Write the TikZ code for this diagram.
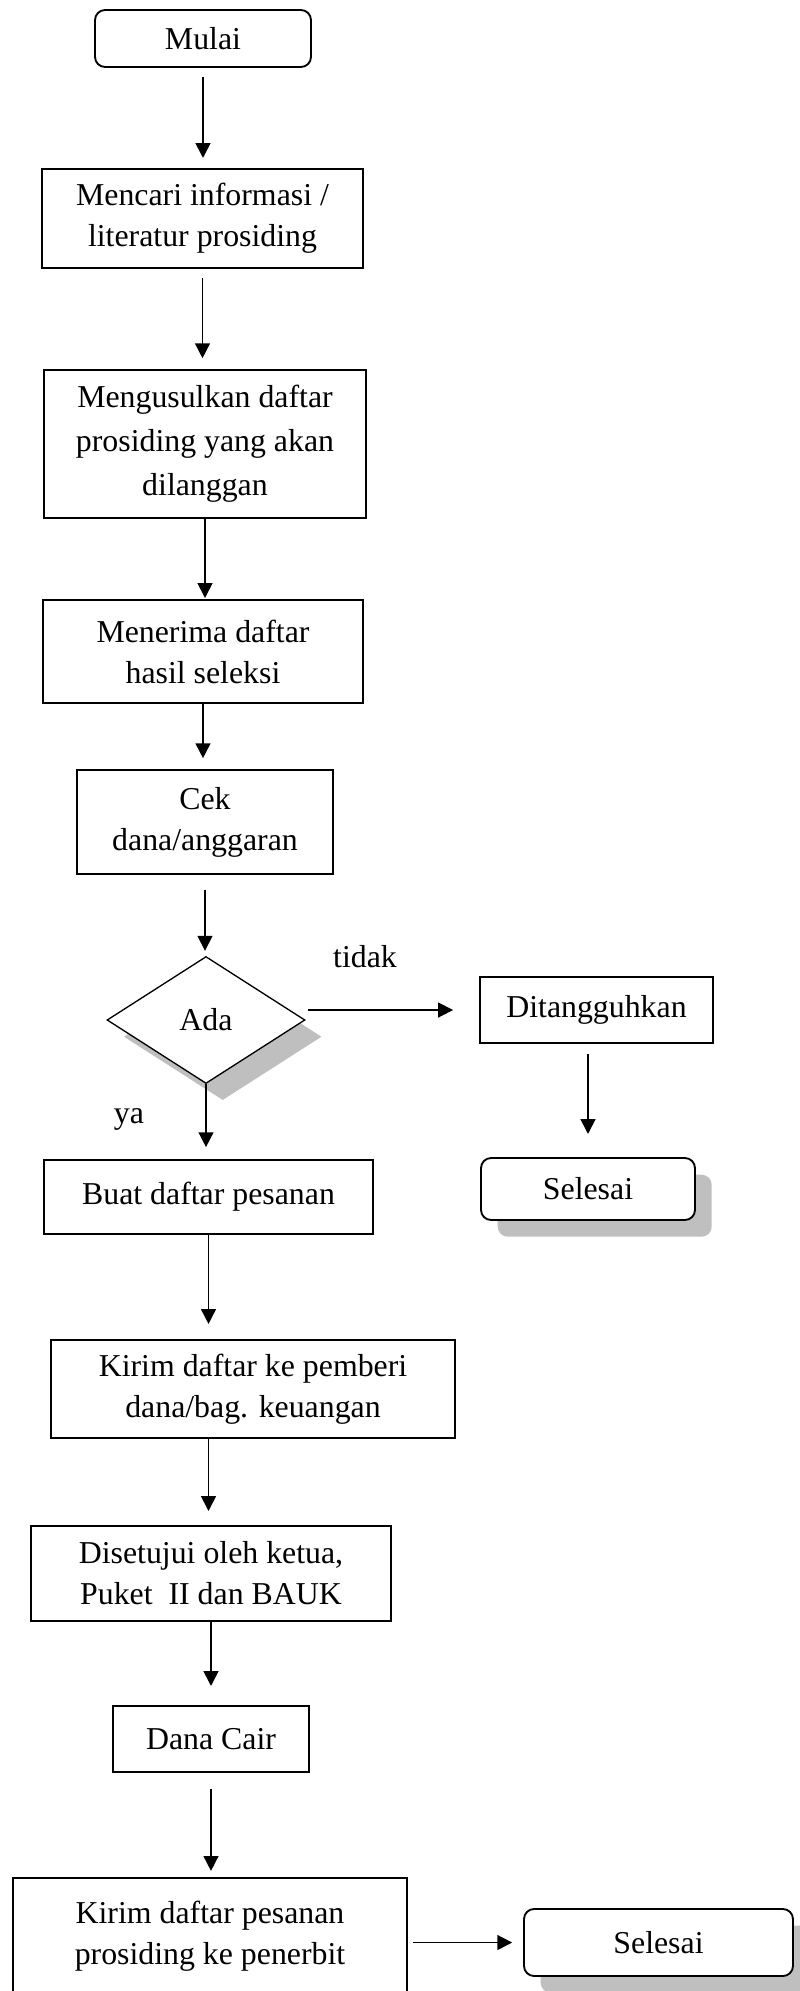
\documentclass[tikz,border=0pt]{standalone}
\usepackage{fontspec}
\setmainfont{Liberation Serif}
\usetikzlibrary{arrows.meta, shapes.geometric, shadows}

\tikzset{
    ukuran/.style 2 args={minimum width=#1*0.377pt, minimum height=#2*0.377pt},
    proses/.style={draw, rectangle, line width=0.7pt},
    terminal/.style={draw, rectangle, rounded corners=3.8pt, line width=0.7pt},
    bayang/.style={fill=white, drop shadow={shadow xshift=6.3pt, shadow yshift=-6.3pt, fill=black!25, opacity=1}},
    keputusan/.style={draw, diamond, aspect=1.56, line width=0.5pt}
}

\begin{document}
\begin{tikzpicture}[x=0.377pt, y=-0.377pt, >={Triangle[length=5.6pt, width=5.6pt]}, line width=0.6pt,
    every node/.style={font=\fontsize{12}{15.5}\selectfont, inner sep=0pt, align=center}]
    \useasboundingbox (0,0) rectangle (799,1991);

    % Alur utama
    \node[terminal, ukuran={216}{57}] (mulai) at (203,38.5) {Mulai};
    \node[proses, ukuran={321}{99}] (cari) at (202.5,218.5) {Mencari informasi /\\literatur prosiding};
    \node[proses, ukuran={322}{148}, font=\fontsize{12}{16.6}\selectfont] (usul) at (205,444) {Mengusulkan daftar\\prosiding yang akan\\dilanggan};
    \node[proses, ukuran={320}{103}] (terima) at (203,651.5) {Menerima daftar\\hasil seleksi};
    \node[proses, ukuran={256}{104}] (cek) at (205,822) {Cek\\dana/anggaran};
    \node[keputusan, bayang, ukuran={198}{127}] (ada) at (206,1020) {Ada};
    \node[proses, ukuran={329}{74}] (buat) at (208.5,1197) {Buat daftar pesanan};
    \node[proses, ukuran={404}{98}] (kirim) at (253,1389) {Kirim daftar ke pemberi\\dana/bag. keuangan};
    \node[proses, ukuran={360}{95}] (setuju) at (211,1573.5) {Disetujui oleh ketua,\\Puket\ \ II dan BAUK};
    \node[proses, ukuran={196}{66}] (cair) at (211,1739) {Dana Cair};
    \node[proses, anchor=north, minimum width=394*0.377pt, inner ysep=8.6pt, text depth=14pt] (pesan) at (210,1877) {Kirim daftar pesanan\\prosiding ke penerbit};

    % Cabang "tidak" dan akhir
    \node[proses, ukuran={233}{66}] (tangguh) at (596.5,1010) {Ditangguhkan};
    \node[terminal, bayang, ukuran={214}{62}] (selesaiA) at (588,1189) {Selesai};
    \node[terminal, bayang, ukuran={269}{67}] (selesaiB) at (658.5,1942.5) {Selesai};

    % Label cabang
    \node (tidak) at (365,957) {tidak};
    \node (ya) at (129,1119) {ya};

    % Panah
    \draw[->, shorten <=3.4pt, shorten >=3.8pt] (mulai.south) -- (mulai.south |- cari.north);
    \draw[->, shorten <=3.4pt, shorten >=4.1pt] (cari.south) -- (cari.south |- usul.north);
    \draw[->, shorten >=0.4pt] (usul.south) -- (usul.south |- terima.north);
    \draw[->, shorten >=4.1pt] (terima.south) -- (terima.south |- cek.north);
    \draw[->, shorten <=5.7pt, shorten >=1.9pt] (cek.south) -- (cek.south |- ada.north);
    \draw[->, shorten >=4.5pt] (ada.south) -- (ada.south |- buat.north);
    \draw[->, shorten <=0.8pt, shorten >=9.8pt] (ada.east |- tangguh.west) -- (tangguh.west);
    \draw[->, shorten <=3.8pt, shorten >=8.7pt] (selesaiA.north |- tangguh.south) -- (selesaiA.north);
    \draw[->, shorten >=5.7pt] (buat.south) -- (buat.south |- kirim.north);
    \draw[->, shorten >=5.3pt] (buat.south |- kirim.south) -- (buat.south |- setuju.north);
    \draw[->, shorten >=7.2pt] (setuju.south) -- (setuju.south |- cair.north);
    \draw[->, shorten <=6pt, shorten >=2.3pt] (cair.south) -- (cair.south |- pesan.north);
    \draw[->, shorten <=1.9pt, shorten >=4.1pt] (pesan.east |- selesaiB.west) -- (selesaiB.west);
\end{tikzpicture}
\end{document}
